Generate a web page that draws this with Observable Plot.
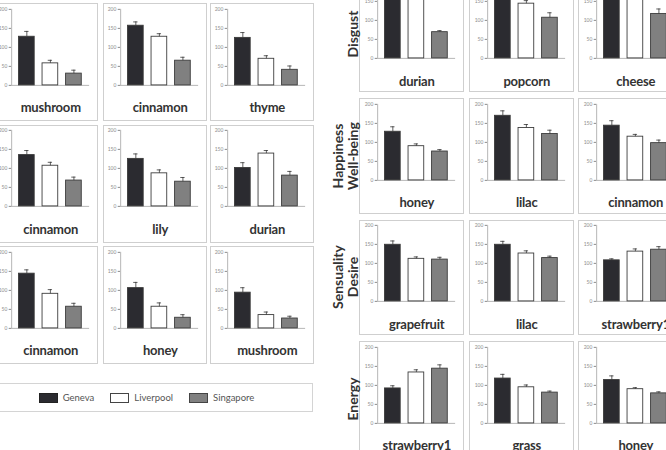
<!DOCTYPE html>
<html><head><meta charset="utf-8">
<script src="https://cdn.jsdelivr.net/npm/d3@7"></script>
<script src="https://cdn.jsdelivr.net/npm/@observablehq/plot@0.6"></script>
<style>
html,body{margin:0;padding:0;background:#fff;}
#root{position:relative;width:666px;height:450px;overflow:hidden;font-family:Lato,"Open Sans",sans-serif;background:#fff;}
.panel{position:absolute;box-sizing:border-box;border:1.5px solid #cfcfcf;background:#fff;}
.panel svg{position:absolute;left:-1.5px;top:-1.5px;}
.cap{position:absolute;left:-1.5px;font-weight:700;font-size:13px;color:#333;text-align:center;line-height:16px;letter-spacing:-0.2px;white-space:nowrap;}
.rowlab{position:absolute;font-weight:700;font-size:14px;color:#333;white-space:nowrap;transform:translate(-50%,-50%) rotate(-90deg);line-height:15px;}
.legend{position:absolute;box-sizing:border-box;border:1.5px solid #d4d4d4;background:#fff;display:flex;align-items:center;justify-content:center;}
.litem{display:flex;align-items:center;margin:0 8px;font-size:9.5px;color:#555;}
.sw{width:19px;height:10px;box-sizing:border-box;border:1px solid #333;margin-right:5px;}
</style>
</head><body><div id="root"></div>
<script>
const cities = ["Geneva", "Liverpool", "Singapore"];
const cityColors = ["#2b2b30", "#ffffff", "#808080"];
const yTicks = [0, 50, 100, 150, 200];

// Left 3x3 grid
const leftLabels = ["mushroom","cinnamon","thyme","cinnamon","lily","durian","cinnamon","honey","mushroom"];
const leftGeneva    = [128, 157, 125, 135, 125, 101, 144, 106, 94];
const leftLiverpool = [58, 128, 70, 107, 87, 139, 91, 57, 35];
const leftSingapore = [31, 65, 41, 68, 65, 81, 57, 28, 26];
const leftGenevaErr    = [14, 10, 14, 12, 13, 14, 10, 15, 13];
const leftLiverpoolErr = [8, 8, 8, 9, 9, 8, 11, 10, 8];
const leftSingaporeErr = [9, 9, 10, 9, 11, 11, 9, 8, 6];

// Right 4x3 grid with row labels
const rowLabels = [["Disgust"], ["Happiness", "Well-being"], ["Sensuality", "Desire"], ["Energy"]];
const rightLabels = ["durian","popcorn","cheese","honey","lilac","cinnamon","grapefruit","lilac","strawberry1","strawberry1","grass","honey"];
const rightGeneva    = [175, 170, 180, 128, 170, 144, 149, 149, 108, 92, 118, 114];
const rightLiverpool = [165, 144, 165, 90, 138, 115, 112, 126, 131, 134, 95, 90];
const rightSingapore = [69, 107, 117, 76, 122, 98, 110, 114, 136, 144, 81, 79];
const rightGenevaErr    = [10, 10, 10, 13, 13, 13, 10, 9, 4, 7, 11, 11];
const rightLiverpoolErr = [8, 8, 8, 6, 9, 6, 5, 7, 7, 7, 6, 4];
const rightSingaporeErr = [4, 13, 13, 5, 10, 8, 6, 5, 8, 10, 4, 4];

const root = document.getElementById("root");

function makePanel(left, top, w, h, label, vals, errs) {
  const data = cities.map((c, i) => ({city: c, v: vals[i], e: errs[i]}));
  const div = document.createElement("div");
  div.className = "panel";
  Object.assign(div.style, {left: left + "px", top: top + "px", width: w + "px", height: h + "px"});
  const svgH = 90;
  const plot = Plot.plot({
    width: w, height: svgH,
    marginLeft: 18.5, marginRight: w - 98, marginTop: 6, marginBottom: svgH - 83.5,
    style: {fontSize: "5px", fontFamily: "Lato, sans-serif", color: "#8a8a8a", background: "transparent", overflow: "visible"},
    x: {domain: cities, paddingInner: 0.35, paddingOuter: 0.32, axis: null},
    y: {domain: [0, 200], ticks: yTicks, tickSize: 2.5, tickPadding: 2, label: null},
    color: {domain: cities, range: cityColors},
    marks: [
      Plot.frame({anchor: "left", stroke: "#b5b5b5"}),
      Plot.ruleY([0], {stroke: "#b5b5b5"}),
      Plot.barY(data, {x: "city", y: "v", fill: "city", stroke: "#3a3a3a", strokeWidth: 0.9}),
      Plot.ruleX(data, {x: "city", y1: "v", y2: d => d.v + d.e, stroke: "#333", strokeWidth: 0.8}),
      Plot.tickY(data, {x: "city", y: d => d.v + d.e, insetLeft: 5.8, insetRight: 5.8, stroke: "#333", strokeWidth: 0.8})
    ]
  });
  div.appendChild(plot);
  const cap = document.createElement("div");
  cap.className = "cap";
  cap.textContent = label;
  Object.assign(cap.style, {top: (104.5 - 8 - 1.5) + "px", width: (18.5 + 98) + "px"});
  div.appendChild(cap);
  root.appendChild(div);
}

const leftX = [-7, 102.5, 209.5], leftY = [3, 124.5, 246];
for (let r = 0; r < 3; r++) for (let c = 0; c < 3; c++) {
  const i = r * 3 + c;
  makePanel(leftX[c], leftY[r], 104.5, 118, leftLabels[i],
    [leftGeneva[i], leftLiverpool[i], leftSingapore[i]],
    [leftGenevaErr[i], leftLiverpoolErr[i], leftSingaporeErr[i]]);
}

const rightX = [359, 469, 578], rightY = [-23.5, 98, 219.5, 341];
for (let r = 0; r < 4; r++) {
  for (let c = 0; c < 3; c++) {
    const i = r * 3 + c;
    makePanel(rightX[c], rightY[r], 104.5, 115.5, rightLabels[i],
      [rightGeneva[i], rightLiverpool[i], rightSingapore[i]],
      [rightGenevaErr[i], rightLiverpoolErr[i], rightSingaporeErr[i]]);
  }
  const lines = rowLabels[r];
  const cy = rightY[r] + 115.5 / 2;
  lines.forEach((t, k) => {
    const d = document.createElement("div");
    d.className = "rowlab";
    d.textContent = t;
    const cx = 352 - 15 * (lines.length - 1 - k);
    Object.assign(d.style, {left: cx + "px", top: cy + "px"});
    root.appendChild(d);
  });
}

// Legend
const leg = document.createElement("div");
leg.className = "legend";
Object.assign(leg.style, {left: "-20px", top: "383px", width: "333px", height: "29px"});
cities.forEach((c, i) => {
  const it = document.createElement("div");
  it.className = "litem";
  const sw = document.createElement("div");
  sw.className = "sw";
  sw.style.background = cityColors[i];
  sw.style.borderColor = i === 0 ? "#222" : "#444";
  const tx = document.createElement("span");
  tx.textContent = c;
  it.appendChild(sw); it.appendChild(tx);
  leg.appendChild(it);
});
root.appendChild(leg);
</script>
</body></html>
